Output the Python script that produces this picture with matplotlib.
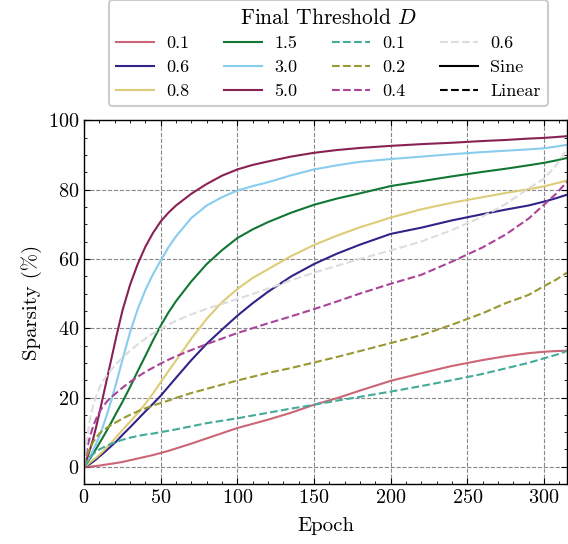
#!/usr/bin/env python
# coding: utf-8

"""Sparsity vs epoch for sine and linear threshold schedules."""

import matplotlib
matplotlib.use("Agg")
import matplotlib.pyplot as plt
from matplotlib.lines import Line2D
from matplotlib.ticker import MultipleLocator

epochs = [0, 2, 4, 6, 8, 10, 12, 15, 18, 21, 25, 30, 35, 40, 45, 50, 55, 60, 70, 80, 90,
          100, 110, 120, 135, 150, 165, 180, 200, 220, 240, 260, 275, 290, 300, 308, 315]

# sine schedule, final threshold D
sine_01 = [0, 0.03, 0.08, 0.15, 0.25, 0.35, 0.5, 0.7, 0.9, 1.1, 1.4, 1.9, 2.4, 2.9, 3.4,
           4.0, 4.6, 5.3, 6.7, 8.2, 9.7, 11.2, 12.4, 13.6, 15.6, 17.9, 19.8, 22.0, 24.8,
           27.0, 29.1, 30.8, 31.9, 32.8, 33.2, 33.4, 33.5]
sine_06 = [0, 0.4, 0.9, 1.5, 2.2, 3.0, 3.7, 4.9, 6.1, 7.3, 9.2, 11.4, 13.7, 16.0, 18.2,
           20.5, 23.1, 25.7, 30.8, 35.5, 39.6, 43.6, 47.2, 50.5, 54.9, 58.5, 61.5, 64.1,
           67.2, 69.0, 71.1, 72.9, 74.2, 75.4, 76.5, 77.5, 78.5]
sine_08 = [0, 0.6, 1.3, 2.0, 2.7, 3.5, 4.3, 5.7, 7.1, 8.6, 10.6, 13.0, 15.5, 18.2, 21.2,
           24.4, 27.6, 30.7, 37.0, 42.7, 47.5, 51.3, 54.5, 57.0, 60.8, 64.0, 66.7, 69.1,
           71.9, 74.3, 76.2, 77.8, 79.0, 80.1, 80.9, 81.8, 82.6]
sine_15 = [0, 1.2, 2.5, 3.9, 5.3, 6.8, 8.3, 10.6, 13.0, 15.5, 18.7, 23.0, 27.6, 32.0, 36.5,
           40.7, 44.5, 47.8, 53.5, 58.5, 62.5, 66.0, 68.5, 70.6, 73.3, 75.6, 77.4, 78.9,
           81.0, 82.4, 83.8, 85.1, 86.0, 87.0, 87.7, 88.4, 89.1]
sine_30 = [0, 1.5, 3.1, 4.9, 6.8, 8.8, 11.2, 15.2, 19.5, 24.2, 30.8, 38.8, 45.5, 51.0,
           55.6, 59.5, 63.3, 66.5, 71.8, 75.4, 77.8, 79.7, 81.0, 82.1, 84.1, 85.8, 87.0,
           88.0, 88.8, 89.5, 90.2, 90.8, 91.2, 91.6, 91.9, 92.4, 92.9]
sine_50 = [0, 2.5, 5.2, 8.2, 11.7, 15.5, 19.5, 25.5, 31.5, 37.5, 45.0, 52.5, 58.5, 63.5,
           67.5, 70.8, 73.3, 75.4, 78.8, 81.6, 84.0, 85.8, 87.1, 88.1, 89.5, 90.6, 91.4,
           92.0, 92.6, 93.1, 93.5, 94.0, 94.3, 94.7, 94.9, 95.15, 95.4]

# linear schedule, final threshold D
lin_01 = [0, 1.6, 2.8, 3.7, 4.4, 5.0, 5.5, 6.1, 6.7, 7.2, 7.8, 8.4, 8.9, 9.3, 9.6, 10.0,
          10.4, 10.8, 11.7, 12.6, 13.3, 14.0, 14.8, 15.6, 16.8, 17.9, 19.1, 20.2, 21.7,
          23.3, 25.0, 26.8, 28.4, 30.0, 31.3, 32.3, 33.4]
lin_02 = [0, 3.5, 5.5, 7.2, 8.5, 9.6, 10.4, 11.3, 12.1, 12.9, 13.9, 15.0, 16.0, 16.9,
          17.7, 18.4, 19.1, 19.9, 21.3, 22.5, 23.7, 24.9, 26.0, 27.1, 28.5, 30.1, 31.7,
          33.4, 35.7, 38.0, 41.0, 44.3, 47.2, 49.6, 52.1, 54.0, 56.0]
lin_04 = [0, 5.5, 9.0, 11.8, 14.0, 15.8, 17.2, 18.9, 20.2, 21.3, 22.8, 24.5, 26.0, 27.4,
          28.6, 29.8, 30.9, 31.9, 33.7, 35.4, 37.0, 38.6, 40.0, 41.4, 43.4, 45.5, 47.7,
          50.0, 52.8, 55.4, 59.2, 63.3, 67.0, 71.6, 75.6, 78.8, 82.2]
lin_06 = [0, 8.5, 14.0, 17.8, 20.6, 22.8, 24.5, 26.5, 28.2, 29.7, 31.5, 33.5, 35.3, 37.0,
          38.5, 39.8, 41.0, 42.1, 44.0, 45.6, 47.0, 48.4, 49.9, 51.4, 53.8, 56.0, 58.0,
          60.0, 62.4, 65.0, 68.3, 72.2, 75.8, 80.3, 83.1, 87.0, 91.6]

sine_series = [("0.1", sine_01, "#CC6677"), ("0.6", sine_06, "#332288"),
               ("0.8", sine_08, "#DDCC77"), ("1.5", sine_15, "#117733"),
               ("3.0", sine_30, "#88CCEE"), ("5.0", sine_50, "#882255")]
linear_series = [("0.1", lin_01, "#44AA99"), ("0.2", lin_02, "#999933"),
                 ("0.4", lin_04, "#AA4499"), ("0.6", lin_06, "#DDDDDD")]

plt.rcParams.update({
    "font.family": "serif",
    "font.serif": ["cmr10"],
    "mathtext.fontset": "cm",
    "axes.formatter.use_mathtext": True,
    "axes.unicode_minus": False,
    "xtick.direction": "in",
    "ytick.direction": "in",
    "xtick.top": True,
    "ytick.right": True,
    "xtick.minor.visible": True,
    "ytick.minor.visible": True,
    "xtick.major.size": 4.5,
    "ytick.major.size": 4.5,
    "xtick.minor.size": 2.5,
    "ytick.minor.size": 2.5,
    "axes.linewidth": 1.0,
})

fig = plt.figure(figsize=(5.68, 5.44), dpi=100)
ax = fig.add_axes([0.148, 0.110, 0.850, 0.669])

handles = []
for label, values, color in sine_series:
    (ln,) = ax.plot(epochs, values, color=color, lw=1.5, ls="-", label=label)
    handles.append(ln)
for label, values, color in linear_series:
    (ln,) = ax.plot(epochs, values, color=color, lw=1.5, ls="--", label=label)
    handles.append(ln)
handles.append(Line2D([], [], color="black", lw=1.5, ls="-", label="Sine"))
handles.append(Line2D([], [], color="black", lw=1.5, ls="--", label="Linear"))

ax.set_xlim(0, 315)
ax.set_ylim(-5, 100)
ax.xaxis.set_major_locator(MultipleLocator(50))
ax.xaxis.set_minor_locator(MultipleLocator(10))
ax.yaxis.set_major_locator(MultipleLocator(20))
ax.yaxis.set_minor_locator(MultipleLocator(5))
ax.tick_params(labelsize=14.5)
ax.grid(True, which="major", ls="--", color="#888888", lw=0.8)
ax.set_xlabel("Epoch", fontsize=15, labelpad=7)
ax.set_ylabel("Sparsity (%)", fontsize=15, labelpad=4)

leg = ax.legend(
    handles=handles,
    ncol=4,
    loc="lower center",
    bbox_to_anchor=(0.578, 0.805),
    bbox_transform=fig.transFigure,
    borderaxespad=0.0,
    title="Final Threshold $D$",
    fontsize=13,
    title_fontsize=15.5,
    frameon=True,
    fancybox=True,
    framealpha=1.0,
    edgecolor="#cccccc",
    handlelength=2.1,
    handletextpad=0.7,
    columnspacing=1.9,
    labelspacing=0.45,
    borderpad=0.4,
)
leg.get_frame().set_linewidth(1.5)

fig.savefig("out.png", dpi=100)
